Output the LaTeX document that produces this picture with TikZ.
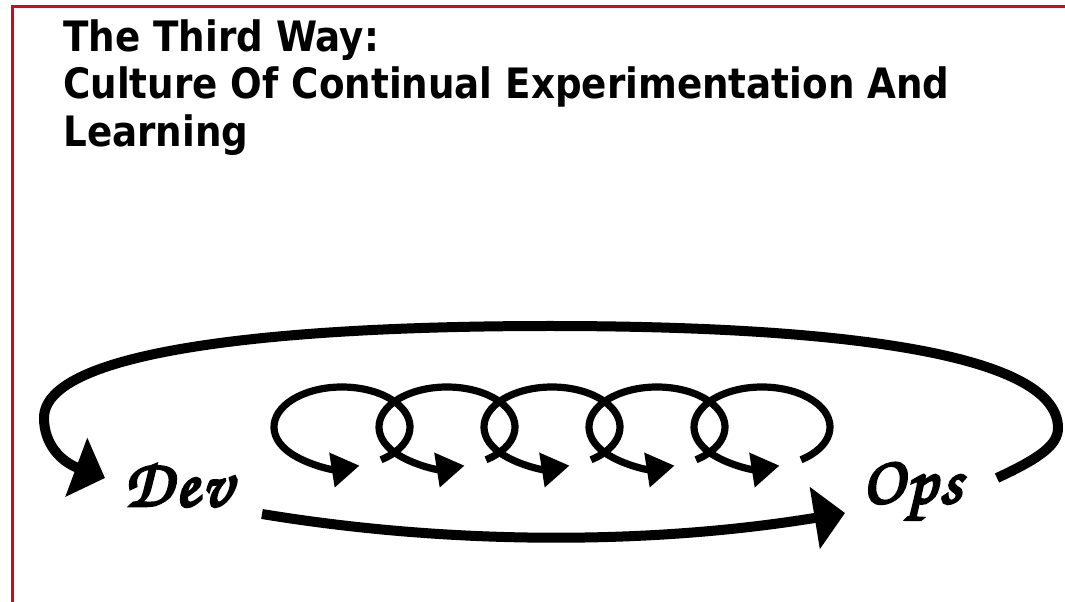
\documentclass[tikz,border=0pt]{standalone}
\usepackage{fontspec}
\usetikzlibrary{arrows.meta,calc}
\newfontfamily\titlefont{DejaVu Sans}[FakeStretch=0.89]
\newfontfamily\chorusfont{texgyrechorus-mediumitalic.otf}[FakeBold=4,LetterSpace=5]
\newcommand\handfont{\chorusfont\fontsize{51}{53}\selectfont}
\definecolor{borderred}{RGB}{214,6,26}

\begin{document}
\begin{tikzpicture}[x=0.75pt,y=-0.75pt,
    heading/.style={anchor=base west,inner sep=0pt,font=\titlefont\bfseries\fontsize{31.4}{36}\selectfont},
    hand/.style={anchor=base west,inner sep=0pt,font=\handfont},
    bigarrow/.style={line width=7.5pt,-{Triangle[length=23pt,width=46pt]}},
    curl/.style={line width=5.4pt,-{Triangle[length=21pt,width=25pt]}}]
\useasboundingbox (0,0) rectangle (1065,602);
\fill[white] (0,0) rectangle (1065,602);
\draw[borderred,line width=2.3pt] (12.3,602) -- (12.3,6.5) -- (1065,6.5);

\node[heading] (head1) at (63,52) {The Third Way:};
\node[heading] (head2) at (63,98.5) {Culture Of Continual Experimentation And};
\node[heading] (head3) at (63,146.5) {Learning};

\node[hand] (dev) at (124,506) {Dev};
\node[hand] (ops) at (862,503) {Ops};

\coordinate (opsout) at (997,478);
\coordinate (devin) at (105,478);
\coordinate (devout) at (262,514);
\coordinate (opsin) at (845,513);

% long way back: Ops over the top to Dev
\draw[bigarrow] (opsout) .. controls (1040,458) and (1058,445) .. (1058,428)
  .. controls (1058,350) and (820,326) .. (550,326)
  .. controls (280,326) and (44,350) .. (44,418)
  .. controls (44,445) and (62,462) .. (devin);

% Dev to Ops
\draw[bigarrow] (devout) .. controls (450,545) and (650,545) .. (opsin);

% small loops of experimentation
\foreach \i in {0,...,4} {
  \coordinate (loop\i) at (342+105*\i,427);
  \draw[curl] ($(loop\i)+(55:68 and 40)$) arc[start angle=55,end angle=-285,x radius=68,y radius=40];
}
\end{tikzpicture}
\end{document}
